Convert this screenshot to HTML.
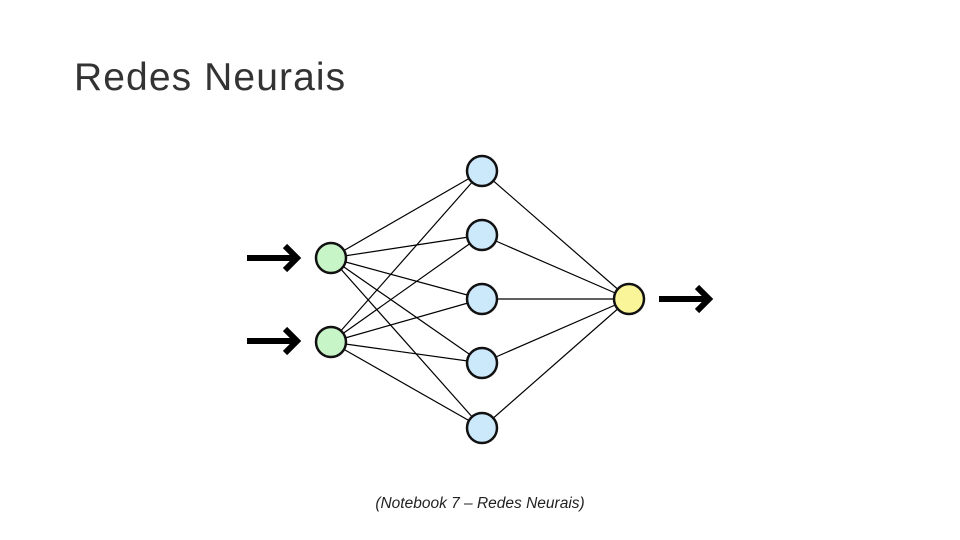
<!DOCTYPE html>
<html><head><style>
body{margin:0;width:960px;height:540px;background:#fff;overflow:hidden;position:relative;font-family:"Liberation Sans",sans-serif}
.t{position:absolute;left:74px;top:56px;font-size:39px;color:#333;letter-spacing:1.1px}
.c{position:absolute;left:0;width:960px;top:495px;text-align:center;font-size:15.5px;font-style:italic;color:#222}
</style></head><body>
<div class="t">Redes Neurais</div>
<svg width="960" height="540" style="position:absolute;left:0;top:0">
<g stroke="#000" stroke-width="1.2">
<line x1="331" y1="258" x2="482" y2="171"/><line x1="331" y1="258" x2="482" y2="235"/><line x1="331" y1="258" x2="482" y2="299"/><line x1="331" y1="258" x2="482" y2="363"/><line x1="331" y1="258" x2="482" y2="428"/>
<line x1="331" y1="342" x2="482" y2="171"/><line x1="331" y1="342" x2="482" y2="235"/><line x1="331" y1="342" x2="482" y2="299"/><line x1="331" y1="342" x2="482" y2="363"/><line x1="331" y1="342" x2="482" y2="428"/>
<line x1="482" y1="171" x2="629" y2="299"/><line x1="482" y1="235" x2="629" y2="299"/><line x1="482" y1="299" x2="629" y2="299"/><line x1="482" y1="363" x2="629" y2="299"/><line x1="482" y1="428" x2="629" y2="299"/>
</g>
<g stroke="#111" stroke-width="2.5">
<circle cx="331" cy="258" r="15" fill="#c8f5c8"/><circle cx="331" cy="342" r="15" fill="#c8f5c8"/>
<circle cx="482" cy="171" r="15" fill="#cce8fb"/><circle cx="482" cy="235" r="15" fill="#cce8fb"/><circle cx="482" cy="299" r="15" fill="#cce8fb"/><circle cx="482" cy="363" r="15" fill="#cce8fb"/><circle cx="482" cy="428" r="15" fill="#cce8fb"/>
<circle cx="629" cy="299" r="15" fill="#fbf59a"/>
</g>
<g stroke="#000" stroke-width="6" fill="none">
<line x1="247" y1="258" x2="296" y2="258"/><polyline points="285,246 297,258 285,270"/>
<line x1="247" y1="341" x2="296" y2="341"/><polyline points="285,329 297,341 285,353"/>
<line x1="659" y1="299" x2="708" y2="299"/><polyline points="697,287 709,299 697,311"/>
</g>
</svg>
<div class="c">(Notebook 7 – Redes Neurais)</div>
</body></html>
